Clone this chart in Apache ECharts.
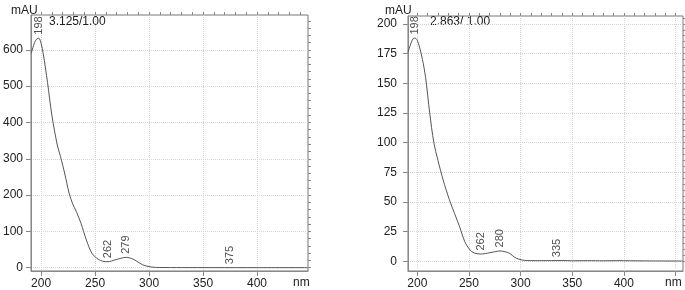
<!DOCTYPE html>
<html>
<head>
	<meta charset="UTF-8" />
	<title></title>
	<style type="text/css">
		* {
			margin: 0;
			padding: 0;
		}

		#main {
			width: 685px;
			height: 290px;
			background-color: #fff;
		}
	</style>
</head>
<body>
	<div id="main"></div>
</body>
<script src="https://cdn.jsdelivr.net/npm/echarts@6/dist/echarts.min.js"></script>
<script type="text/javascript">
	// left spectrum
	var wl1 = [191, 194, 196, 198, 200, 202, 206, 210, 215, 218, 222, 226, 229, 233, 237, 242, 247, 253, 257, 262, 268, 274, 279, 284, 288, 294, 302, 310, 330, 360, 400, 447]
	var abs1 = [591, 620, 630, 632, 618, 590, 510, 420, 338, 306, 258, 205, 178, 152, 122, 76, 40, 23, 18, 16.5, 21, 26, 28.6, 25, 19, 8, 2, 0.5, 0.3, 0.2, 0.1, 0.1]
	var peakWl1 = [198, 262, 279, 375]
	var peakAbs1 = [632, 16.5, 28.6, 0.1]

	// right spectrum
	var wl2 = [191, 194, 196, 198, 200, 202, 205, 208, 212, 216, 220, 225, 231, 236, 241, 246, 251, 255, 261, 266, 270, 275, 280, 285, 289, 296, 306, 320, 340, 350, 365, 380, 393, 420, 457]
	var abs2 = [176, 184, 187.5, 188, 186, 181, 170, 155, 125, 100, 85, 68.5, 52, 40.4, 29, 16.5, 9.5, 7, 6.1, 6.5, 7.2, 8, 8.7, 8, 6.8, 2.5, 0.6, 0.5, 0.6, 0.4, 0.5, 0.4, 0.5, 0.3, 0.2]
	var peakWl2 = [198, 262, 280, 335]
	var peakAbs2 = [188, 6.1, 8.7, 0.5]

	// ticks and labels
	var xTicks = [200, 250, 300, 350, 400, 450]
	var xLabels = [200, 250, 300, 350, 400]
	var yTicks1 = [0, 100, 200, 300, 400, 500, 600]
	var yTicks2 = [0, 25, 50, 75, 100, 125, 150, 175, 200]
	var header1 = '3.125/1.00'
	var header2 = '2.863/ 1.00'

	function zip(a, b) {
		return a.map(function (v, i) { return [v, b[i]] })
	}
	function steps(from, to, step) {
		var r = []
		for (var v = from; v <= to; v += step) r.push(v)
		return r
	}

	var font = 'Liberation Sans, Arial, sans-serif'
	var axisColor = '#888'
	var textColor = '#222'

	function majorAxis(grid, min, max, ticks, labels, margin) {
		return {
			type: 'value', gridIndex: grid, min: min, max: max,
			axisLine: { show: true, onZero: false, lineStyle: { color: axisColor } },
			axisTick: { show: true, length: 5, customValues: ticks, lineStyle: { color: axisColor } },
			axisLabel: { customValues: labels, color: textColor, fontSize: 12, fontFamily: font, margin: margin },
			splitLine: { show: true, lineStyle: { color: '#d4d4d4', type: 'dotted' } }
		}
	}
	function minorAxis(grid, min, max, ticks) {
		return {
			type: 'value', gridIndex: grid, min: min, max: max,
			axisLine: { show: false, onZero: false },
			axisTick: { show: true, length: 3, customValues: ticks, lineStyle: { color: axisColor } },
			axisLabel: { show: false },
			splitLine: { show: false }
		}
	}
	function peakSeries(xi, yi, wl, ab, dist) {
		return {
			type: 'scatter', xAxisIndex: xi, yAxisIndex: yi,
			symbolSize: 1, itemStyle: { color: 'rgba(0,0,0,0)' },
			data: zip(wl, ab),
			label: {
				show: true, position: 'top', distance: dist, rotate: 90,
				align: 'left', verticalAlign: 'middle',
				color: textColor, fontSize: 11, fontFamily: font,
				formatter: function (p) { return String(p.value[0]) }
			}
		}
	}

	var myChart = echarts.init(document.getElementById('main'))
	var option = {
		backgroundColor: '#fff',
		animation: false,
		grid: [
			{ left: 31, top: 15, width: 277, height: 256, show: true, borderColor: '#777', borderWidth: 1 },
			{ left: 408, top: 16, width: 275, height: 255, show: true, borderColor: '#777', borderWidth: 1 }
		],
		xAxis: [
			majorAxis(0, 190.7, 447.2, xTicks, xLabels, 7),
			minorAxis(0, 190.7, 447.2, steps(200, 440, 10)),
			majorAxis(1, 191, 457.2, xTicks, xLabels, 7),
			minorAxis(1, 191, 457.2, steps(200, 450, 10))
		],
		yAxis: [
			majorAxis(0, -9.1, 696, yTicks1, yTicks1, 8),
			minorAxis(0, -9.1, 696, steps(0, 680, 20)),
			majorAxis(1, -8.2, 206.6, yTicks2, yTicks2, 11),
			minorAxis(1, -8.2, 206.6, steps(0, 205, 5))
		],
		graphic: [
			{ type: 'text', left: 11, top: 5, style: { text: 'mAU', fill: textColor, font: '12px ' + font } },
			{ type: 'text', left: 49, top: 16, style: { text: header1, fill: textColor, font: '12px ' + font } },
			{ type: 'text', left: 293, top: 277, style: { text: 'nm', fill: textColor, font: '12px ' + font } },
			{ type: 'text', left: 385, top: 5, style: { text: 'mAU', fill: textColor, font: '12px ' + font } },
			{ type: 'text', left: 430, top: 16, style: { text: header2, fill: textColor, font: '12px ' + font } },
			{ type: 'text', left: 665, top: 277, style: { text: 'nm', fill: textColor, font: '12px ' + font } }
		],
		series: [
			{
				type: 'line', xAxisIndex: 0, yAxisIndex: 0, data: zip(wl1, abs1),
				smooth: 0.3, showSymbol: false, lineStyle: { color: '#555', width: 1 }
			},
			peakSeries(0, 0, peakWl1, peakAbs1, 3),
			{
				type: 'line', xAxisIndex: 2, yAxisIndex: 2, data: zip(wl2, abs2),
				smooth: 0.3, showSymbol: false, lineStyle: { color: '#555', width: 1 }
			},
			peakSeries(2, 2, peakWl2, peakAbs2, 3)
		]
	}
	myChart.setOption(option)
</script>
</html>
